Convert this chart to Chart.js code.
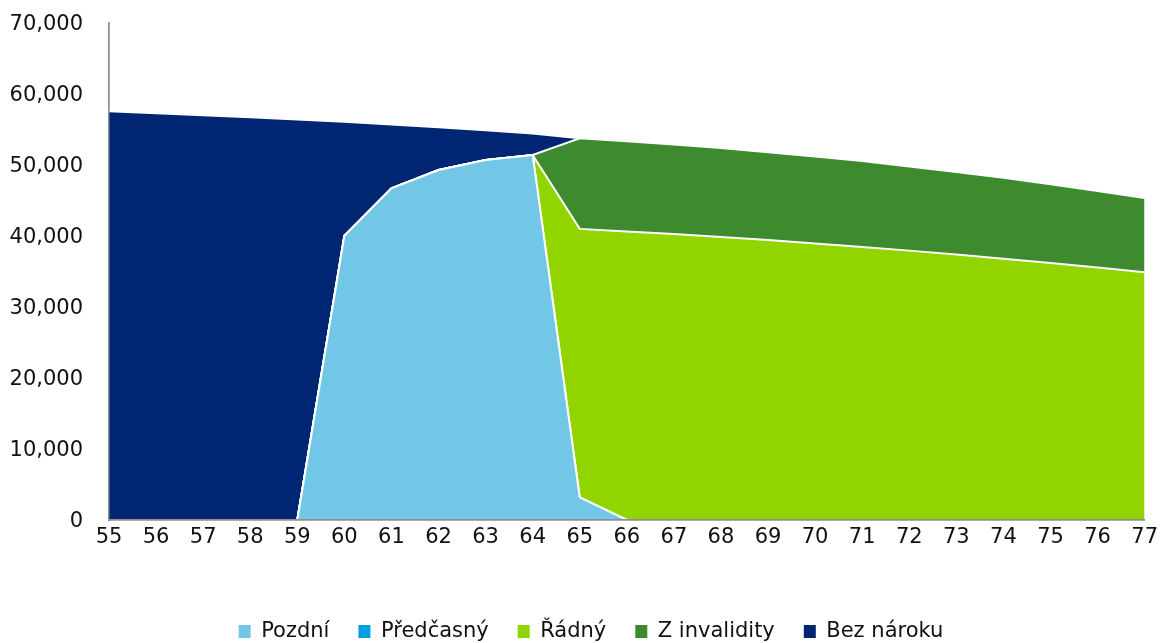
<!DOCTYPE html>
<html lang="cs">
<head>
<meta charset="utf-8">
<title>Struktura podle věku</title>
<script src="https://cdn.jsdelivr.net/npm/chart.js@4/dist/chart.umd.min.js"></script>
<style>
  html, body { margin: 0; padding: 0; background: #ffffff; overflow: hidden; }
  #wrap { width: 1163px; height: 652px; }
</style>
</head>
<body>
<div id="wrap"><canvas id="chart" width="1163" height="652"></canvas></div>
<script>
// Věk (osa x)
const ages = ['55','56','57','58','59','60','61','62','63','64','65','66','67','68','69','70','71','72','73','74','75','76','77'];

// Počty podle typu důchodu, vrstvené od spodu
const pozdni     = [0, 0, 0, 0, 0, 40040, 46720, 49300, 50700, 51410, 3200, 0, 0, 0, 0, 0, 0, 0, 0, 0, 0, 0, 0];
const predcasny  = [0, 0, 0, 0, 0, 0, 0, 0, 0, 0, 0, 0, 0, 0, 0, 0, 0, 0, 0, 0, 0, 0, 0];
const radny      = [0, 0, 0, 0, 0, 0, 0, 0, 0, 0, 37800, 40650, 40270, 39860, 39420, 38950, 38460, 37940, 37390, 36810, 36200, 35560, 34880];
const zInvalidity = [0, 0, 0, 0, 0, 0, 0, 0, 0, 0, 12750, 12700, 12630, 12540, 12380, 12250, 12090, 11860, 11610, 11390, 11100, 10790, 10470];
const bezNaroku  = [57560, 57300, 57020, 56730, 56420, 16040, 9000, 6030, 4200, 3040, 0, 0, 0, 0, 0, 0, 0, 0, 0, 0, 0, 0, 0];

// Popisky osy y
const yMin = 0;
const yMax = 70000;
const yStep = 10000;

const seriesNames = ['Pozdní', 'Předčasný', 'Řádný', 'Z invalidity', 'Bez nároku'];
const seriesColors = ['#72C6E6', '#00A0E0', '#92D400', '#3E8A2F', '#002673'];
const seriesData = [pozdni, predcasny, radny, zInvalidity, bezNaroku];

const datasets = seriesData.map((data, i) => ({
  label: seriesNames[i],
  data: data,
  backgroundColor: seriesColors[i],
  borderColor: '#ffffff',
  borderWidth: 2,
  pointRadius: 0,
  pointHoverRadius: 0,
  tension: 0,
  fill: i === 0 ? 'origin' : '-1'
}));

// Axis lines are painted again above the filled areas
const axesOnTop = {
  id: 'axesOnTop',
  afterDatasetsDraw(chart) {
    ['x', 'y'].forEach(id => {
      const s = chart.scales[id];
      if (s && typeof s.drawBorder === 'function') s.drawBorder();
    });
  }
};

// Centre the legend row a little to the right of the canvas middle
const legendShift = {
  id: 'legendShift',
  afterLayout(chart) {
    if (chart.legend) chart.legend.left += 27;
  }
};

const tickFont = { family: '"DejaVu Sans", Verdana, sans-serif', size: 21 };

new Chart(document.getElementById('chart'), {
  type: 'line',
  data: { labels: ages, datasets: datasets },
  plugins: [axesOnTop, legendShift],
  options: {
    responsive: false,
    animation: false,
    devicePixelRatio: 1,
    locale: 'en-US',
    layout: { padding: { left: 9, right: 17, top: 23, bottom: 0 } },
    plugins: {
      tooltip: { enabled: false },
      legend: {
        position: 'bottom',
        align: 'center',
        labels: {
          color: '#111111',
          font: { family: '"DejaVu Sans", Verdana, sans-serif', size: 21 },
          boxWidth: 12,
          boxHeight: 13,
          padding: 29,
          generateLabels(chart) {
            const items = Chart.defaults.plugins.legend.labels.generateLabels(chart);
            items.forEach(it => { it.lineWidth = 0; it.strokeStyle = 'rgba(0,0,0,0)'; });
            return items;
          }
        }
      }
    },
    scales: {
      x: {
        type: 'category',
        offset: false,
        grid: { display: false, drawTicks: false },
        border: { display: true, color: '#8f8f8f', width: 1.5 },
        ticks: { color: '#111111', font: tickFont, padding: 5, maxRotation: 0, autoSkip: false },
        afterFit(scale) { scale.height = 72; }
      },
      y: {
        stacked: true,
        min: yMin,
        max: yMax,
        grid: { display: false, drawTicks: false },
        border: { display: true, color: '#8f8f8f', width: 1.5 },
        ticks: { color: '#111111', font: tickFont, padding: 26, stepSize: yStep, labelOffset: 2 },
        afterFit(scale) {
          scale.width = 100;
          scale.paddingTop = 0;
          scale.paddingBottom = 0;
        }
      }
    }
  }
});
</script>
</body>
</html>
